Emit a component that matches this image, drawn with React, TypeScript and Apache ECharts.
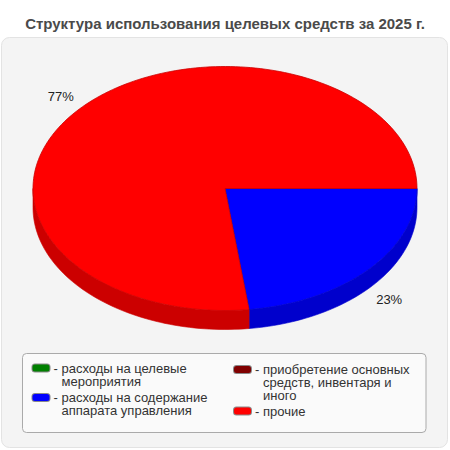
import React, { useEffect, useRef } from "react";
import * as echarts from "echarts";

const chartTitle = "Структура использования целевых средств за 2025 г.";
const categories = [
  "расходы на целевые мероприятия",
  "расходы на содержание аппарата управления",
  "приобретение основных средств, инвентаря и иного",
  "прочие",
];
const legendLines = [
  ["расходы на целевые", "мероприятия"],
  ["расходы на содержание", "аппарата управления"],
  ["приобретение основных", "средств, инвентаря и", "иного"],
  ["прочие"],
];
const values = [0, 23, 0, 77];
const colors = ["#008000", "#0000ff", "#800000", "#ff0000"];
const sideColors = ["#006600", "#0000cc", "#660000", "#cc0000"];

const FONT = "'Liberation Sans', Arial, sans-serif";
const CX = 225;
const CY = 188.5;
const RX = 192;
const RY = 122;
const DEPTH = 19;
const LINE_H = 13;

// legend placement (layout only): left edge of swatch, centre y of first text line
const legendPos = [
  { left: 32.5, firstLine: 368 },
  { left: 32.5, firstLine: 397.5 },
  { left: 234, firstLine: 369.5 },
  { left: 234, firstLine: 411 },
];

function arcPoints(a0: number, a1: number, dy: number) {
  const pts: number[][] = [];
  const n = Math.max(2, Math.ceil(((a1 - a0) / (Math.PI * 2)) * 240));
  for (let i = 0; i <= n; i++) {
    const t = a0 + ((a1 - a0) * i) / n;
    pts.push([CX + RX * Math.cos(t), CY + RY * Math.sin(t) + dy]);
  }
  return pts;
}

function makeRenderItem(k: number) {
  return (params: any, api: any) => {
    const v = api.value(0) as number;
    if (!v) return null;
    const total = values.reduce((s, x) => s + x, 0);
    const before = values.slice(0, k).reduce((s, x) => s + x, 0);
    const a0 = (before / total) * Math.PI * 2;
    const a1 = ((before + v) / total) * Math.PI * 2;
    const children: any[] = [];
    const s0 = Math.max(a0, 0);
    const s1 = Math.min(a1, Math.PI);
    if (s1 > s0) {
      const top = arcPoints(s0, s1, 0);
      const bot = arcPoints(s0, s1, DEPTH).reverse();
      children.push({
        type: "polygon",
        z2: 1,
        shape: { points: top.concat(bot) },
        style: { fill: sideColors[k], stroke: sideColors[k], lineWidth: 0.6 },
      });
    }
    const facePts = [[CX, CY]].concat(arcPoints(a0, a1, 0));
    children.push({
      type: "polygon",
      z2: 2,
      shape: { points: facePts },
      style: { fill: colors[k], stroke: sideColors[k], lineWidth: 0.8 },
    });
    const mid = (a0 + a1) / 2;
    const kf = 1.14;
    const lx = CX + kf * RX * Math.cos(mid);
    let ly = CY + kf * RY * Math.sin(mid);
    if (Math.sin(mid) > 0) ly += DEPTH;
    children.push({
      type: "text",
      z2: 3,
      style: {
        text: Math.round((v / total) * 100) + "%",
        x: lx,
        y: ly,
        align: "center",
        verticalAlign: "middle",
        fill: "#222",
        fontSize: 13,
        fontFamily: FONT,
      },
    });
    return { type: "group", children };
  };
}

export default function App() {
  const ref = useRef<HTMLDivElement>(null);
  useEffect(() => {
    if (!ref.current) return;
    const chart = echarts.init(ref.current, undefined, { renderer: "svg" });
    const series = categories.map((name, k) => ({
      type: "custom",
      name,
      coordinateSystem: "none",
      itemStyle: { color: colors[k] },
      data: [[values[k]]],
      renderItem: makeRenderItem(k),
      silent: true,
    }));
    const legends = categories.map((name, k) => {
      // the swatch is a rich-text token so it stays level with the first line
      return {
        data: [name],
        left: legendPos[k].left - 6,
        top: legendPos[k].firstLine - LINE_H / 2,
        orient: "vertical",
        padding: 0,
        itemGap: 0,
        icon: "none",
        itemWidth: 1,
        itemHeight: 1,
        selectedMode: false,
        formatter: () =>
          legendLines[k]
            .map((l, i) =>
              i === 0 ? "{sw|}{gap|}{t|- " + l + "}" : "{ind|}{t|" + l + "}"
            )
            .join("\n"),
        textStyle: {
          fontSize: 13,
          color: "#333",
          fontFamily: FONT,
          lineHeight: LINE_H,
          rich: {
            sw: {
              width: 17,
              height: 7,
              backgroundColor: colors[k],
              borderColor: "#8a8a8a",
              borderWidth: 1,
              borderRadius: 2.5,
            },
            gap: { width: 4 },
            ind: { width: 29 },
            t: { fontSize: 13, color: "#333", fontFamily: FONT, lineHeight: LINE_H },
          },
        },
      };
    });
    chart.setOption({
      animation: false,
      title: {
        text: chartTitle,
        left: "center",
        top: 11,
        textStyle: { fontSize: 15, fontWeight: "bold", color: "#4a4a4a", fontFamily: FONT },
      },
      graphic: [
        {
          type: "rect",
          z: -10,
          shape: { x: 1.5, y: 37.5, width: 446, height: 410, r: 8 },
          style: { fill: "#f4f4f4", stroke: "#e3e3e3", lineWidth: 1 },
        },
        {
          type: "rect",
          z: -9,
          shape: { x: 22.5, y: 353.5, width: 403.5, height: 79, r: 4 },
          style: { fill: "#fafafa", stroke: "#aaaaaa", lineWidth: 1 },
        },
      ],
      legend: legends,
      series,
    });
    return () => chart.dispose();
  }, []);
  return (
    <div
      ref={ref}
      style={{ position: "absolute", left: 0, top: 0, width: 450, height: 450 }}
    />
  );
}
